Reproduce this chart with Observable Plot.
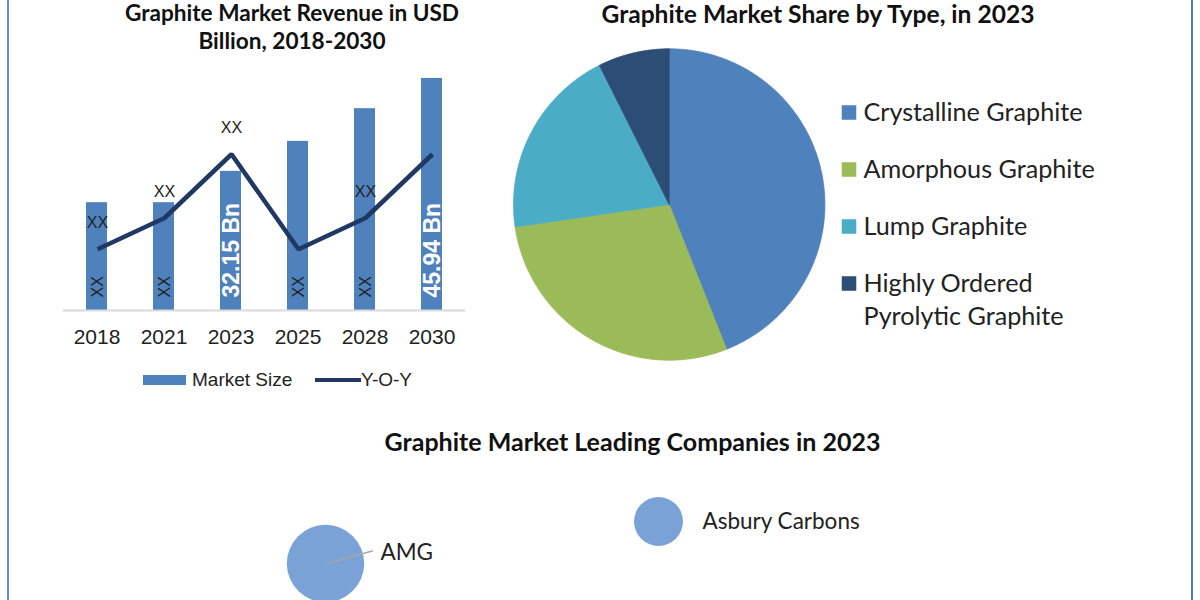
<!DOCTYPE html>
<html>
<head>
<meta charset="utf-8">
<script src="https://cdn.jsdelivr.net/npm/d3@7"></script>
<script src="https://cdn.jsdelivr.net/npm/@observablehq/plot@0.6"></script>
<style>
  html, body { margin: 0; padding: 0; background: #fff; overflow: hidden; }
  #root { position: relative; width: 1200px; height: 600px; overflow: hidden; background: #fff; }
  #root > * { position: absolute; }
  .title { font-family: Lato, "Open Sans", sans-serif; font-weight: 700; color: #111; text-align: center; white-space: nowrap; }
  .leg { font-family: "Liberation Sans", Arial, sans-serif; font-size: 19px; line-height: 20px; color: #222; white-space: nowrap; }
</style>
</head>
<body>
<div id="root"></div>
<script>
// ---------- DATA ----------
const years = ["2018", "2021", "2023", "2025", "2028", "2030"];
const marketSize = [27.5, 27.5, 32.15, 36.6, 41.45, 45.94];           // USD Bn
const sizeLabels = ["XX", "XX", "32.15 Bn", "XX", "XX", "45.94 Bn"];
const yoyGrowth = [4.9, 7.4, 12.5, 4.9, 7.4, 12.5];                    // Y-O-Y line (relative)
const yoyLabels = ["XX", "XX", "XX", "", "XX", ""];

const types = ["Crystalline Graphite", "Amorphous Graphite", "Lump Graphite", "Highly Ordered Pyrolytic Graphite"];
const typeShare = [44.0, 28.7, 19.9, 7.4];
const typeLegendLabels = ["Crystalline Graphite", "Amorphous Graphite", "Lump Graphite", "Highly Ordered\nPyrolytic Graphite"];

const companies = ["AMG", "Asbury Carbons"];
const companyX = [3.25, 6.58];
const companyY = [7.7, 11.9];
const companyShare = [10, 4];

// ---------- STYLE ----------
const barColor = "#4f81bd";
const lineColor = "#1f3864";
const typeColors = ["#4f81bd", "#9bbb59", "#4bacc6", "#2c4d75"];
const bubbleColor = "#7aa2d6";
const sans = "'Liberation Sans', Arial, sans-serif";
const calib = "Lato, 'Open Sans', sans-serif";

const root = document.getElementById("root");
function place(el, left, top) { el.style.left = left + "px"; el.style.top = top + "px"; root.appendChild(el); return el; }
function div(cls, html, css) { const d = document.createElement("div"); if (cls) d.className = cls; d.innerHTML = html; Object.assign(d.style, css || {}); return d; }

// ---------- BAR + LINE CHART ----------
const rows = years.map((year, i) => ({year, size: marketSize[i], sizeLabel: sizeLabels[i], yoy: yoyGrowth[i], yoyLabel: yoyLabels[i]}));
const barBase = 11.5;
const frame = {width: 480, height: 400, marginLeft: 63, marginRight: 15, marginTop: 60, marginBottom: 90};

const barPlot = Plot.plot({
  ...frame,
  style: {background: "transparent", fontFamily: sans, fontSize: "21px", color: "#222"},
  x: {type: "band", domain: years, paddingInner: 0.69, paddingOuter: 0.345, label: null, tickSize: 0, tickPadding: 19},
  y: {domain: [barBase, 48.6], axis: null},
  marks: [
    Plot.barY(rows, {x: "year", y1: barBase, y2: "size", fill: barColor}),
    Plot.ruleY([barBase], {stroke: "#d9d9d9", strokeWidth: 2})
  ]
});
place(barPlot, 0, 0);

const linePlot = Plot.plot({
  ...frame,
  style: {background: "transparent", fontFamily: sans, color: "#222"},
  x: {type: "point", domain: years, padding: 0.5, axis: null},
  y: {domain: [0, 20], axis: null},
  marks: [
    Plot.line(rows, {x: "year", y: "yoy", stroke: lineColor, strokeWidth: 4.5, strokeLinejoin: "miter", strokeLinecap: "butt"}),
    Plot.text(rows, {filter: d => d.yoyLabel !== "", x: "year", y: "yoy", text: "yoyLabel", dy: -26, fontSize: 16, fill: "#222"}),
    Plot.text(rows, {filter: d => !/Bn/.test(d.sizeLabel), x: "year", y: 0, text: "sizeLabel", rotate: -90, textAnchor: "start", dy: -13, fontSize: 16, fill: "#222"}),
    Plot.text(rows, {filter: d => /Bn/.test(d.sizeLabel), x: "year", y: 0, text: "sizeLabel", rotate: -90, textAnchor: "start", dy: -13, fontSize: 23, fontWeight: "bold", fill: "#ffffff"})
  ]
});
place(linePlot, 0, 0);

place(div("title", "Graphite Market Revenue in USD<br>Billion, 2018-2030", {fontSize: "22.6px", lineHeight: "28.4px", width: "500px"}), 292 - 250, -1.5);

// bar chart legend
place(div("", "", {width: "43px", height: "10px", background: barColor}), 143, 375);
place(div("leg", "Market Size"), 192, 370);
place(div("", "", {width: "46px", height: "4px", background: lineColor}), 315, 378);
place(div("leg", "Y-O-Y"), 361, 370);

// ---------- PIE ----------
const arcs = d3.pie().sort(null).value(d => d)(typeShare);
const piePts = [];
arcs.forEach((a, i) => {
  const t = types[i];
  piePts.push({type: t, x: 0, y: 0});
  const n = Math.max(2, Math.ceil((a.endAngle - a.startAngle) / 0.01));
  for (let k = 0; k <= n; k++) {
    const ang = a.startAngle + (a.endAngle - a.startAngle) * k / n;
    piePts.push({type: t, x: Math.sin(ang), y: Math.cos(ang)});
  }
  piePts.push({type: t, x: 0, y: 0});
});

const piePlot = Plot.plot({
  width: 340, height: 330, marginLeft: 13, marginRight: 15.6, marginTop: 8.3, marginBottom: 10.3,
  style: {background: "transparent"},
  x: {domain: [-1, 1], axis: null},
  y: {domain: [-1, 1], axis: null},
  color: {domain: types, range: typeColors},
  marks: [
    Plot.line(piePts, {x: "x", y: "y", z: "type", fill: "type", stroke: "type", strokeWidth: 0.8, curve: "linear"})
  ]
});
place(piePlot, 500, 40);

const pieLegend = Plot.plot({
  width: 300, height: 250, marginLeft: 0, marginRight: 0, marginTop: 20.5, marginBottom: 56.5,
  style: {background: "transparent", fontFamily: calib, color: "#222"},
  y: {type: "point", domain: types, padding: 0, axis: null},
  color: {domain: types, range: typeColors},
  marks: [
    Plot.dot(types, {y: d => d, fill: d => d, symbol: "square", r: 8.2, frameAnchor: "left", dx: 18.5, stroke: null}),
    Plot.text(types, {y: d => d, text: (d, i) => typeLegendLabels[i], frameAnchor: "left", dx: 33, dy: -15.5, textAnchor: "start", lineAnchor: "top", lineHeight: 1.33, fontSize: 25.2, fill: "#222"})
  ]
});
place(pieLegend, 830, 90);

place(div("title", "Graphite Market Share by Type, in 2023", {fontSize: "24.6px", lineHeight: "26px", width: "600px"}), 818 - 300, 0.5);

// ---------- BUBBLES ----------
place(div("title", "Graphite Market Leading Companies in 2023", {fontSize: "25px", lineHeight: "30px", width: "700px"}), 632.5 - 350, 426);

const comp = companies.map((name, i) => ({name, x: companyX[i], y: companyY[i], share: companyShare[i]}));
const bubblePlot = Plot.plot({
  width: 1200, height: 180, margin: 0,
  style: {background: "transparent", fontFamily: calib, color: "#222"},
  x: {domain: [0, 12], axis: null},
  y: {domain: [0, 18], axis: null},
  r: {type: "sqrt", domain: [0, 10], range: [0, 38.7]},
  marks: [
    Plot.dot(comp, {x: "x", y: "y", r: "share", fill: bubbleColor, stroke: null}),
    Plot.link(comp, {filter: d => d.name === "AMG", x1: d => d.x + 0.014, y1: d => d.y - 0.04, x2: d => d.x + 0.474, y2: d => d.y + 1.27, stroke: "#a6a6a6", strokeWidth: 1.5}),
    Plot.text(comp, {filter: d => d.name === "AMG", x: "x", y: "y", text: "name", textAnchor: "start", dx: 55, dy: -11, fontSize: 22.5, fill: "#222"}),
    Plot.text(comp, {filter: d => d.name !== "AMG", x: "x", y: "y", text: "name", textAnchor: "start", dx: 44, fontSize: 22.5, fill: "#222"})
  ]
});
place(bubblePlot, 0, 460);

// ---------- panel borders ----------
place(div("", "", {width: "2px", height: "600px", background: "#5b8fd6"}), 7, 0);
place(div("", "", {width: "2px", height: "600px", background: "#4a7cc7"}), 1191, 0);
</script>
</body>
</html>
